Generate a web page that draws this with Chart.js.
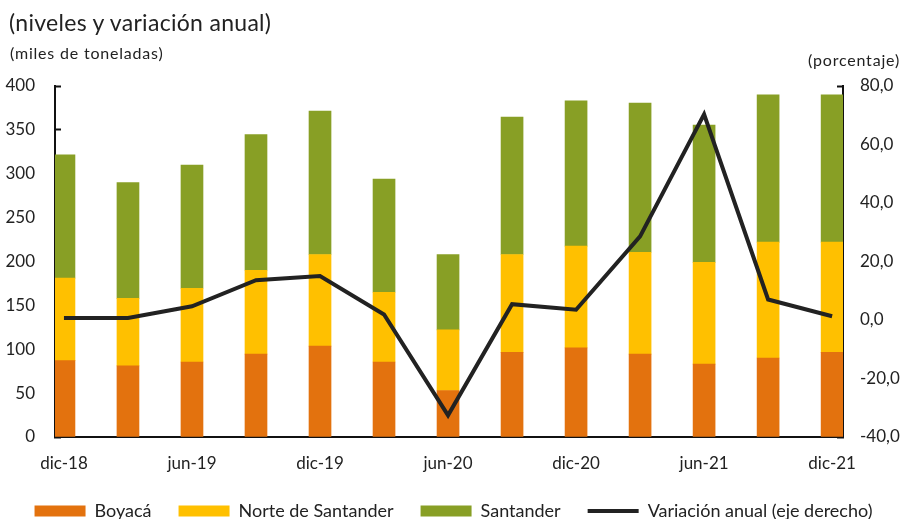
<!DOCTYPE html>
<html>
<head>
<meta charset="utf-8">
<script src="https://cdn.jsdelivr.net/npm/chart.js@4.4.0/dist/chart.umd.min.js"></script>
<style>
  html, body { margin: 0; padding: 0; background: #fff; }
  .wrap { position: relative; width: 907px; height: 519px; overflow: hidden; font-family: Lato, sans-serif; color: #222; }
  .sub { position: absolute; left: 9px; top: 8px; font-size: 23px; letter-spacing: 0.3px; white-space: nowrap; }
  .unit-l { position: absolute; left: 10px; top: 43px; font-size: 16px; letter-spacing: 0.8px; white-space: nowrap; }
  .unit-r { position: absolute; right: 7px; top: 50px; font-size: 16px; letter-spacing: 0.8px; white-space: nowrap; }
  canvas { position: absolute; left: 0; top: 0; }
</style>
</head>
<body>
<div class="wrap">
  <canvas id="chart" width="907" height="519"></canvas>
  <div class="sub">(niveles y variación anual)</div>
  <div class="unit-l">(miles de toneladas)</div>
  <div class="unit-r">(porcentaje)</div>
</div>
<script>
const periods = ['dic-18', 'mar-19', 'jun-19', 'sep-19', 'dic-19', 'mar-20', 'jun-20',
  'sep-20', 'dic-20', 'mar-21', 'jun-21', 'sep-21', 'dic-21'];
const boyaca = [87, 81, 85.5, 94.5, 103.5, 85.5, 53, 96.5, 101.5, 94.5, 83, 90, 96.5];
const norteSantander = [94, 77, 84, 95.5, 104.5, 79.5, 69, 111.5, 116, 116, 116, 132, 125.5];
const santander = [140.5, 132, 140.5, 154.5, 163.5, 129, 86, 156.5, 165.5, 170, 156.5, 168, 168];
const variacion = [0.7, 0.7, 4.7, 13.6, 15.0, 1.9, -32.6, 5.4, 3.5, 28.6, 70.3, 7.0, 1.3];

const leftTicks = [0, 50, 100, 150, 200, 250, 300, 350, 400];
const rightTicks = [-40, -20, 0, 20, 40, 60, 80];

const toPoints = (arr) => arr.map((v, i) => ({ x: i, y: v }));
const axisColor = '#111';
const textColor = '#222';

// every 2nd period gets a label; small marks sit a bit before the labelled ones (like Excel)
const labelIdx = periods.map((p, i) => i).filter(i => i % 2 === 0);
const markIdx = labelIdx.slice(1).map(i => i - 0.15);

const barDefaults = { type: 'bar', yAxisID: 'y', stack: 'prod', barThickness: 22, order: 1, borderWidth: 0 };

new Chart(document.getElementById('chart'), {
  data: {
    datasets: [
      { ...barDefaults, label: 'Boyacá', data: toPoints(boyaca), backgroundColor: '#E3720E' },
      { ...barDefaults, label: 'Norte de Santander', data: toPoints(norteSantander), backgroundColor: '#FFC000' },
      { ...barDefaults, label: 'Santander', data: toPoints(santander), backgroundColor: '#889F25' },
      {
        type: 'line', label: 'Variación anual (eje derecho)', yAxisID: 'y1', order: 0,
        data: toPoints(variacion), borderColor: '#222', backgroundColor: '#222',
        borderWidth: 4, pointRadius: 0, tension: 0, borderJoinStyle: 'miter'
      }
    ]
  },
  options: {
    responsive: false,
    animation: false,
    events: [],
    layout: { padding: { top: 86, left: 0, right: 0, bottom: -11 } },
    scales: {
      x: {
        type: 'linear',
        offset: false,
        min: -0.14,
        max: 12.17,
        afterBuildTicks: (scale) => {
          scale.ticks = [...labelIdx, ...markIdx].sort((a, b) => a - b).map(v => ({ value: v }));
        },
        afterFit: (scale) => { scale.height = 38; },
        ticks: {
          autoSkip: false,
          maxRotation: 0,
          padding: 22,
          color: textColor,
          font: { family: 'Lato', size: 17 },
          callback: (v) => (Number.isInteger(v) ? periods[v] : '')
        },
        grid: {
          offset: false,
          drawOnChartArea: false,
          tickLength: -6,
          tickWidth: 2,
          tickColor: (ctx) => (ctx.tick && Number.isInteger(ctx.tick.value) ? 'rgba(0,0,0,0)' : axisColor)
        },
        border: { color: axisColor, width: 2 }
      },
      y: {
        position: 'left',
        stacked: true,
        min: 0,
        max: 400,
        afterBuildTicks: (scale) => { scale.ticks = leftTicks.map(v => ({ value: v })); },
        afterFit: (scale) => { scale.width = 55; },
        ticks: { padding: 26, color: textColor, font: { family: 'Lato', size: 17 } },
        grid: { drawOnChartArea: false, tickLength: -6, tickWidth: 2, tickColor: axisColor },
        border: { color: axisColor, width: 2 }
      },
      y1: {
        position: 'right',
        min: -40,
        max: 80,
        afterBuildTicks: (scale) => { scale.ticks = rightTicks.map(v => ({ value: v })); },
        afterFit: (scale) => { scale.width = 64; },
        ticks: {
          padding: 23,
          color: textColor,
          font: { family: 'Lato', size: 17 },
          callback: (v) => v.toFixed(1).replace('.', ',')
        },
        grid: { drawOnChartArea: false, tickLength: -6, tickWidth: 2, tickColor: axisColor },
        border: { color: axisColor, width: 2 }
      }
    },
    plugins: {
      tooltip: { enabled: false },
      legend: {
        position: 'bottom',
        labels: {
          usePointStyle: true,
          pointStyleWidth: 51,
          boxHeight: 11,
          padding: 27,
          color: textColor,
          font: { family: 'Lato', size: 18 },
          generateLabels: (chart) => chart.data.datasets.map((ds, i) => ({
            text: ds.label,
            datasetIndex: i,
            fillStyle: ds.type === 'line' ? ds.borderColor : ds.backgroundColor,
            strokeStyle: ds.type === 'line' ? ds.borderColor : ds.backgroundColor,
            lineWidth: ds.type === 'line' ? 4 : 0,
            pointStyle: ds.type === 'line' ? 'line' : 'rect',
            fontColor: textColor,
            hidden: false
          }))
        }
      }
    }
  }
});
</script>
</body>
</html>
